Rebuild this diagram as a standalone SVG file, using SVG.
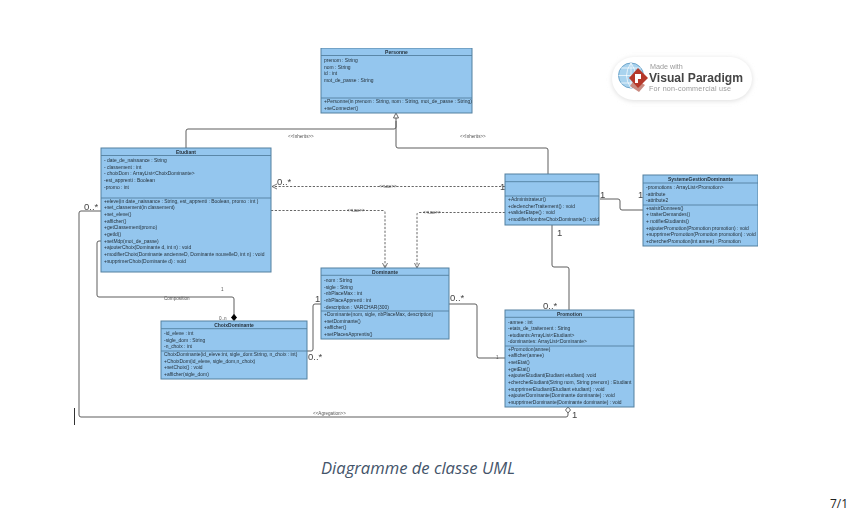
<svg xmlns="http://www.w3.org/2000/svg" width="847" height="514" viewBox="0 0 847 514">
<style>
text{font-family:"Liberation Sans",Arial,sans-serif;fill:#26323c}
.box{fill:#94c6ee;stroke:#53809f;stroke-width:1}
.div{stroke:#53809f;stroke-width:.9;fill:none}
.t{font-size:4.95px}
.h{font-size:5px;font-weight:bold;text-anchor:middle}
.c{fill:none;stroke:#5c5c5c;stroke-width:1}
.d{fill:none;stroke:#555;stroke-width:.9;stroke-dasharray:2.2 1.6}
.a{fill:none;stroke:#666;stroke-width:.9}
.m{font-size:9.5px;fill:#444}
.s{font-size:4.6px;fill:#555}
.u{font-size:4.500px;fill:#444;text-anchor:middle}
</style>
<defs>
<filter id="soft" x="0" y="0" width="100%" height="100%"><feGaussianBlur stdDeviation="0.3"/></filter>
<filter id="shadow" x="-10%" y="-20%" width="120%" height="140%"><feGaussianBlur stdDeviation="2.5"/></filter>
</defs>
<rect width="847" height="514" fill="#fff"/>
<g filter="url(#soft)">
<g id="connectors">
<path class="c" d="M186 148V131q0-2 2-2H394q2 0 2-2V118"/>
<path class="c" d="M396 121V146q0 2 2 2H546q2 0 2 2V174"/>
<path d="M396 113l-2.500 5h5z" fill="#fff" stroke="#555" stroke-width=".9"/>
<path class="d" d="M505 186.500H272"/>
<path class="a" d="M277 184l-5 2.500 5 2.500"/>
<path class="d" d="M271 210.500H383q2 0 2 2V267"/>
<path class="a" d="M382.500 263l2.500 5 2.500-5"/>
<path class="d" d="M505 212.500H419q-2 0-2 2V267"/>
<path class="a" d="M414.500 263l2.500 5 2.500-5"/>
<path class="c" d="M600 199H618q2 0 2 2V208q0 2 2 2H643"/>
<path class="c" d="M552 225V265q0 2 2 2H567q2 0 2 2V310"/>
<path class="c" d="M101 241H99q-2 0-2 2V295q0 2 2 2H232q2 0 2 2V316"/>
<path d="M234 314.500l2.500 3-2.500 3-2.500-3z" fill="#000" stroke="#000"/>
<path class="c" d="M101 211H81q-2 0-2 2V415q0 2 2 2H566q2 0 2 -2V413"/>
<path d="M568 407l2.500 3-2.500 3-2.500-3z" fill="#fff" stroke="#555" stroke-width=".9"/>
<path class="c" d="M307 351H311q2 0 2-2V306q0-2 2-2H321"/>
<path class="c" d="M449 304H475q2 0 2 2V356q0 2 2 2H505"/>
<text class="s" x="288" y="137.500">&lt;&lt;Inherits&gt;&gt;</text>
<text class="s" x="460" y="137.500">&lt;&lt;Inherits&gt;&gt;</text>
<text class="u" x="388" y="188">&lt;&lt;use&gt;&gt;</text>
<text class="u" x="356" y="212">&lt;&lt;use&gt;&gt;</text>
<text class="u" x="432" y="214">&lt;&lt;use&gt;&gt;</text>
<text class="s" x="164" y="300">Composition</text>
<text class="s" x="313" y="414.500">&lt;&lt;Agregation&gt;&gt;</text>
<text class="s" x="221" y="290.500">1</text>
<text class="s" x="219" y="320">0..n</text>
<text class="m" x="277" y="185">0..*</text>
<text class="m" x="84" y="210">0..*</text>
<text class="m" x="500" y="190">1</text>
<text class="m" x="600" y="198">1</text>
<text class="m" x="638" y="198">1</text>
<text class="m" x="557" y="236">1</text>
<text class="m" x="543" y="309">0..*</text>
<text class="m" x="315" y="302">1</text>
<text class="m" x="308" y="360">0..*</text>
<text class="m" x="450" y="301">0..*</text>
<text class="s" x="496" y="359">1</text>
<text class="m" x="572" y="418">1</text>
</g>
<g id="personne">
<rect class="box" x="321" y="48" width="151" height="65"/>
<path class="div" d="M321 55.500H472M321 98H472"/>
<text class="h" x="396.500" y="53.500">Personne</text>
<text class="t"><tspan x="324" y="62">prenom : String</tspan><tspan x="324" y="68.700">nom : String</tspan><tspan x="324" y="75.400">id : int</tspan><tspan x="324" y="82">mot_de_passe : String</tspan></text>
<text class="t"><tspan x="324" y="103">+Personne(in prenom : String, nom : String, mot_de_passe : String)</tspan><tspan x="324" y="109.700">+seConnecter()</tspan></text>
</g>
<g id="etudiant">
<rect class="box" x="101" y="148" width="170" height="124"/>
<path class="div" d="M101 155.500H271M101 198H271"/>
<text class="h" x="186" y="153.500">Etudiant</text>
<text class="t"><tspan x="104" y="162">- date_de_naissance : String</tspan><tspan x="104" y="168.700">- classement : int</tspan><tspan x="104" y="175.400">- choixDom : ArrayList&lt;ChoixDominante&gt;</tspan><tspan x="104" y="182">-est_apprenti : Boolean</tspan><tspan x="104" y="188.700">-promo : int</tspan></text>
<text class="t"><tspan x="104" y="202.700">+eleve(in date_naissance : String, est_apprenti : Boolean, promo : int )</tspan><tspan x="104" y="209.400">+set_classement(in classement)</tspan><tspan x="104" y="216">+set_eleve()</tspan><tspan x="104" y="222.700">+afficher()</tspan><tspan x="104" y="229.400">+getClassement(promo)</tspan><tspan x="104" y="236">+getId()</tspan><tspan x="104" y="242.700">+setMdp(mot_de_passe)</tspan><tspan x="104" y="249.400">+ajouterChoix(Dominante d, int n) : void</tspan><tspan x="104" y="256">+modifierChoix(Dominante ancienneD, Dominante nouvelleD, int n) : void</tspan><tspan x="104" y="262.700">+supprimerChoix(Dominante d) : void</tspan></text>
</g>
<g id="administrateur">
<rect class="box" x="505" y="174" width="94" height="51"/>
<path class="div" d="M505 181.700H599M505 196H599"/>
<text class="t"><tspan x="508" y="201">+Administrateur()</tspan><tspan x="508" y="207.700">+declencherTraitement() : void</tspan><tspan x="508" y="214.400">+validerEtape() : void</tspan><tspan x="508" y="221">+modifierNombreChoixDominante() : void</tspan></text>
</g>
<g id="systeme">
<rect class="box" x="643" y="175" width="115" height="71"/>
<path class="div" d="M643 183H758M643 205H758"/>
<text class="h" x="700.500" y="180.500">SystemeGestionDominante</text>
<text class="t"><tspan x="646" y="189">-promotions : ArrayList&lt;Promotion&gt;</tspan><tspan x="646" y="195.700">-attribute</tspan><tspan x="646" y="202">-attribute2</tspan></text>
<text class="t"><tspan x="646" y="209.500">+saisirDonnees()</tspan><tspan x="646" y="216.200">+ traiterDemandes()</tspan><tspan x="646" y="222.900">+ notifierEtudiants()</tspan><tspan x="646" y="229.600">+ajouterPromotion(Promotion promotion) : void</tspan><tspan x="646" y="236.300">+supprimerPromotion(Promotion promotion) : void</tspan><tspan x="646" y="243">+chercherPromotion(int annee) : Promotion</tspan></text>
</g>
<g id="dominante">
<rect class="box" x="321" y="268" width="128" height="71"/>
<path class="div" d="M321 275.300H449M321 311H449"/>
<text class="h" x="385" y="273.500">Dominante</text>
<text class="t"><tspan x="324" y="282">-nom : String</tspan><tspan x="324" y="288.700">-sigle : String</tspan><tspan x="324" y="295.400">-nbPlaceMax : int</tspan><tspan x="324" y="302">-nbPlaceApprenti : int</tspan><tspan x="324" y="308.700">-description : VARCHAR(300)</tspan></text>
<text class="t"><tspan x="324" y="316">+Dominante(nom, sigle, nbPlaceMax, description)</tspan><tspan x="324" y="322.700">+setDominante()</tspan><tspan x="324" y="329.400">+afficher()</tspan><tspan x="324" y="336">+setPlacesApprentis()</tspan></text>
</g>
<g id="choixdominante">
<rect class="box" x="161" y="321" width="146" height="58"/>
<path class="div" d="M161 328.700H307M161 351H307"/>
<text class="h" x="234" y="326.500">ChoixDominante</text>
<text class="t"><tspan x="164" y="335">-id_eleve : int</tspan><tspan x="164" y="341.700">-sigle_dom : String</tspan><tspan x="164" y="348.400">-n_choix : int</tspan></text>
<text class="t"><tspan x="164" y="356">ChoixDominante(id_eleve:int, sigle_dom:String, n_choix : int)</tspan><tspan x="164" y="362.700">+ChoixDom(id_eleve, sigle_dom,n_choix)</tspan><tspan x="164" y="369.400">+setChoix() : void</tspan><tspan x="164" y="376">+afficher(sigle_dom)</tspan></text>
</g>
<g id="promotion">
<rect class="box" x="505" y="310" width="129" height="97"/>
<path class="div" d="M505 317.300H634M505 346H634"/>
<text class="h" x="569.500" y="315.500">Promotion</text>
<text class="t"><tspan x="508" y="323.500">-annee : int</tspan><tspan x="508" y="330">-etats_de_traitement : String</tspan><tspan x="508" y="336.700">-etudiants:ArrayList&lt;Etudiant&gt;</tspan><tspan x="508" y="343.400">-dominantes: ArrayList&lt;Dominante&gt;</tspan></text>
<text class="t"><tspan x="508" y="350.500">+Promotion(annee)</tspan><tspan x="508" y="357.200">+afficher(annee)</tspan><tspan x="508" y="363.900">+setEtat()</tspan><tspan x="508" y="370.600">+getEtat()</tspan><tspan x="508" y="377.300">+ajouterEtudiant(Etudiant etudiant) :void</tspan><tspan x="508" y="384">+chercherEtudiant(String nom, String prenom) : Etudiant</tspan><tspan x="508" y="390.700">+supprimerEtudiant(Etudiant etudiant) : void</tspan><tspan x="508" y="397.400">+ajouterDominante(Dominante dominante) : void</tspan><tspan x="508" y="404">+supprimerDominante(Dominante dominante) : void</tspan></text>
</g>
<g id="watermark">
<rect x="612" y="58" width="140" height="43" rx="21.500" fill="#ddd" filter="url(#shadow)"/>
<rect x="612" y="57" width="140" height="43" rx="21.500" fill="#fff"/>
<circle cx="631" cy="75.500" r="12.500" fill="#a9d3ee" stroke="#6fa6cc" stroke-width="1"/>
<path d="M618.500 75.500H643.500M631 63V88M621 68H641M621 83H641M631 63Q622 75.500 631 88M631 63Q640 75.500 631 88" fill="none" stroke="#fff" stroke-width=".7"/>
<path d="M630 86l9 6 6-7-10-6z" fill="#c98a80"/>
<path d="M629 78l9-10 10 10-10 10z" fill="#b5392b"/>
<path d="M635 74h6v5h-3v4h-3z" fill="#fff"/>
<text x="650" y="69" style="font-size:7.200px;fill:#9a9a9a">Made with</text>
<text x="649" y="82" textLength="94" lengthAdjust="spacingAndGlyphs" style="font-size:12.500px;font-weight:bold;fill:#444">Visual Paradigm</text>
<text x="649" y="91" textLength="82" style="font-size:7.200px;fill:#9a9a9a">For non-commercial use</text>
</g>
<path d="M74.500 408V425" stroke="#333" stroke-width="1" fill="none"/>
</g>
<text x="321" y="474" textLength="194" lengthAdjust="spacingAndGlyphs" style="font-family:'Open Sans','Noto Sans',sans-serif;font-size:15.500px;font-style:italic;fill:#44546a">Diagramme de classe UML</text>
<text x="830" y="508" style="font-family:'Open Sans',sans-serif;font-size:12px;fill:#222">7/1</text>
</svg>
